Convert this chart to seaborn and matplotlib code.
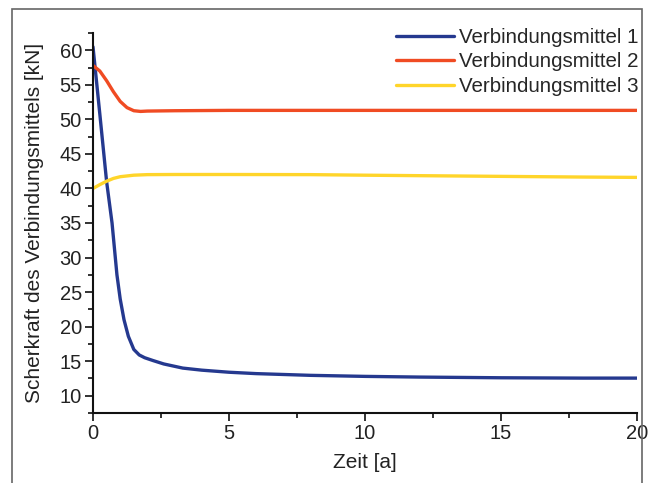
import matplotlib
matplotlib.use("Agg")
import matplotlib.pyplot as plt
import seaborn as sns
import pandas as pd
from matplotlib.patches import Rectangle
from matplotlib.ticker import MultipleLocator

series_names = ["Verbindungsmittel 1", "Verbindungsmittel 2", "Verbindungsmittel 3"]
colors = ["#25398f", "#f04b23", "#ffd52a"]

t1 = [0, 0.25, 0.5, 0.7, 0.88, 1.0, 1.14, 1.3, 1.5, 1.7, 1.9, 2.2, 2.6, 3.3, 4, 5, 6, 8, 10, 12, 15, 18, 20]
v1 = [60.5, 50.8, 41.0, 35.0, 27.5, 24.0, 21.0, 18.6, 16.7, 15.9, 15.5, 15.1, 14.6, 14.0, 13.7, 13.4, 13.2, 12.95, 12.8, 12.7, 12.6, 12.55, 12.55]

t2 = [0, 0.25, 0.5, 0.75, 1.0, 1.25, 1.5, 1.75, 2.0, 3, 5, 10, 15, 20]
v2 = [57.8, 57.0, 55.6, 54.0, 52.6, 51.7, 51.25, 51.15, 51.2, 51.25, 51.3, 51.3, 51.3, 51.3]

t3 = [0, 0.25, 0.5, 0.75, 1.0, 1.5, 2.0, 3, 5, 8, 10, 12, 15, 18, 20]
v3 = [40.0, 40.55, 41.05, 41.45, 41.7, 41.92, 42.0, 42.02, 42.02, 42.0, 41.92, 41.85, 41.75, 41.65, 41.6]

df = pd.concat([
    pd.DataFrame({"Zeit": t1, "Wert": v1, "Serie": series_names[0]}),
    pd.DataFrame({"Zeit": t2, "Wert": v2, "Serie": series_names[1]}),
    pd.DataFrame({"Zeit": t3, "Wert": v3, "Serie": series_names[2]}),
], ignore_index=True)

sns.set_style("ticks")
plt.rcParams["font.family"] = ["Liberation Sans", "DejaVu Sans"]

fig = plt.figure(figsize=(6.49, 4.83), dpi=100)
ax = fig.add_axes([93 / 649, 1 - 413 / 483, (637 - 93) / 649, (413 - 33) / 483])

sns.lineplot(data=df, x="Zeit", y="Wert", hue="Serie", palette=dict(zip(series_names, colors)),
             linewidth=2.4, ax=ax, sort=False, estimator=None)

ax.set_xlim(0, 20)
ax.set_ylim(7.5, 62.5)
ax.xaxis.set_major_locator(MultipleLocator(5))
ax.xaxis.set_minor_locator(MultipleLocator(2.5))
ax.yaxis.set_major_locator(MultipleLocator(5))
ax.yaxis.set_minor_locator(MultipleLocator(2.5))
ax.tick_params(axis="both", which="major", length=6, width=1.3, labelsize=14.5, colors="#222222", pad=2)
ax.tick_params(axis="both", which="minor", length=3.5, width=1.3, colors="#222222")
for s in ["top", "right"]:
    ax.spines[s].set_visible(False)
for s in ["left", "bottom"]:
    ax.spines[s].set_linewidth(1.5)
    ax.spines[s].set_color("#111111")

ax.set_xlabel("Zeit [a]", fontsize=15, color="#222222", labelpad=7)
ax.set_ylabel("Scherkraft des Verbindungsmittels [kN]", fontsize=15, color="#222222", labelpad=11)

leg = ax.legend(loc="upper right", frameon=False, fontsize=14.8, handlelength=2.8,
                handletextpad=0.25, labelspacing=0.27, borderaxespad=0.0,
                bbox_to_anchor=(1.018, 1.035))
for line in leg.get_lines():
    line.set_linewidth(2.4)

fig.patches.append(Rectangle((12 / 649, -0.01), (642 - 12) / 649, 1 - 9 / 483 + 0.01,
                             transform=fig.transFigure, fill=False, edgecolor="#666666",
                             linewidth=1.2, figure=fig))

fig.savefig("out.png", dpi=100)
